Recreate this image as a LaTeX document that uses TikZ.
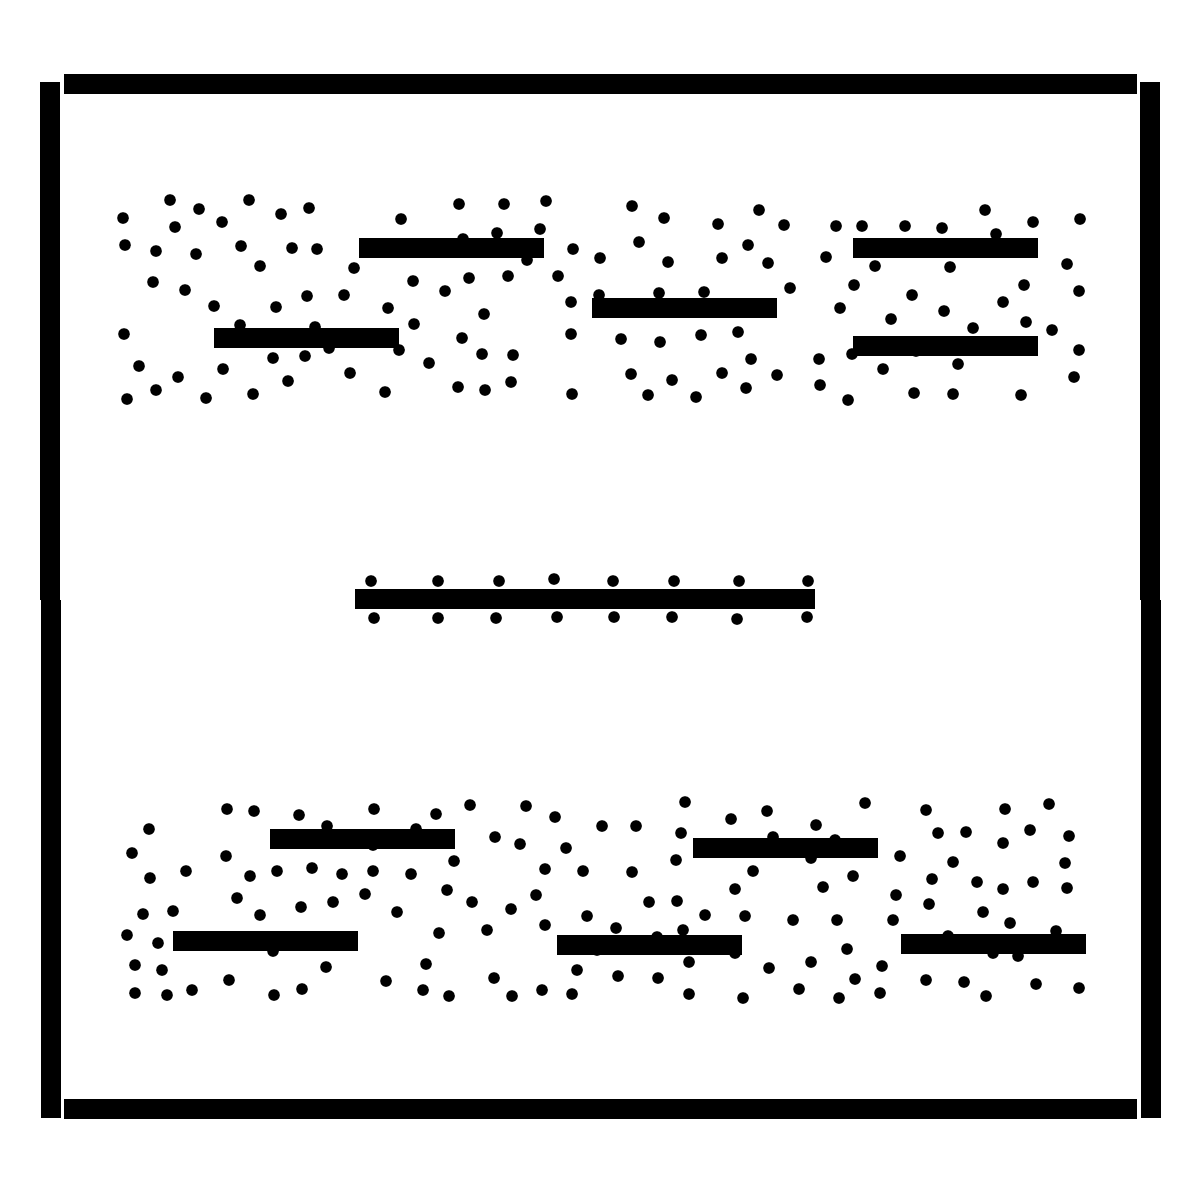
\documentclass[tikz,border=0pt]{standalone}
\begin{document}
\begin{tikzpicture}[x=0.5pt,y=-0.5pt,
  dotr/.style={fill=black},
  barfill/.style={fill=black}]
\useasboundingbox[fill=white] (0,0) rectangle (1200,1200);
% frame
\fill[barfill] (64,74) rectangle (1137,94);
\fill[barfill] (64,1099) rectangle (1137,1119);
\fill[barfill] (40,82) rectangle (60,600);
\fill[barfill] (41,600) rectangle (61,1118);
\fill[barfill] (1140,82) rectangle (1160,600);
\fill[barfill] (1141,600) rectangle (1161,1118);
% top dots
\foreach \a/\b in {170/200,199/209,249/200,281/214,309/208,123/218,175/227,222/222,125/245,156/251,196/254,241/246,292/248,317/249,260/266,354/268,153/282,185/290,214/306,276/307,307/296,344/295,240/325,315/327,124/334,329/348,273/358,305/356,139/366,223/369,178/377,350/373,288/381,156/390,127/399,206/398,253/394,
459/204,504/204,546/201,401/219,540/229,497/233,463/239,573/249,600/258,527/260,413/281,445/291,469/278,508/276,558/276,599/295,571/302,388/308,484/314,414/324,462/338,571/334,399/350,482/354,513/355,429/363,511/382,385/392,458/387,485/390,572/394,
632/206,664/218,759/210,718/224,784/225,836/226,862/226,639/242,748/245,668/262,722/258,768/263,826/257,790/288,854/285,659/293,704/292,840/308,621/339,660/342,701/335,738/332,751/359,819/359,852/354,631/374,672/380,722/373,777/375,746/388,820/385,648/395,696/397,848/400,
905/226,942/228,985/210,996/234,1033/222,1080/219,929/251,875/266,950/267,1067/264,1024/285,1079/291,912/295,1003/302,944/311,891/319,1026/322,973/328,1052/330,916/351,1079/350,883/369,958/364,1074/377,914/393,953/394,1021/395}
  \fill[dotr] (\a,\b) circle[radius=5.8];
% middle dots
\foreach \a/\b in {371/581,438/581,499/581,554/579,613/581,674/581,739/581,808/581,
374/618,438/618,496/618,557/617,614/617,672/617,737/619,807/617}
  \fill[dotr] (\a,\b) circle[radius=5.8];
% bottom dots
\foreach \a/\b in {227/809,254/811,299/815,327/826,149/829,132/853,226/856,150/878,186/871,250/876,277/871,312/868,342/874,237/898,260/915,301/907,333/902,143/914,173/911,127/935,158/943,273/951,135/965,162/970,326/967,229/980,135/993,167/995,192/990,274/995,302/989,
374/809,436/814,470/805,526/806,555/817,602/826,416/829,373/845,495/837,520/844,566/848,454/861,373/871,411/874,545/869,583/871,365/894,447/890,472/902,536/895,511/909,397/912,587/916,439/933,487/930,545/925,597/950,426/964,577/970,386/981,494/978,423/990,449/996,512/996,542/990,572/994,
685/802,731/819,767/811,636/826,681/833,816/825,773/837,835/840,811/858,676/860,632/872,753/871,853/876,735/889,823/887,649/902,677/901,705/915,745/916,793/920,837/920,616/928,683/930,657/937,735/953,847/949,689/962,769/968,811/962,855/979,618/976,658/978,689/994,743/998,799/989,839/998,
865/803,926/810,1005/809,1049/804,938/833,966/832,1030/830,1069/836,1003/843,900/856,953/862,1065/863,932/879,977/882,1003/889,1033/882,1067/888,896/895,929/904,983/912,1010/923,893/920,1056/931,948/936,993/953,1018/956,882/966,880/993,926/980,964/982,986/996,1036/984,1079/988}
  \fill[dotr] (\a,\b) circle[radius=5.8];
% bars
\foreach \x/\y in {359/238,214/328,592/298,853/238,853/336,270/829,173/931,693/838,557/935,901/934}
  \fill[barfill] (\x,\y) rectangle ++(185,20);
\fill[barfill] (355,589) rectangle (815,609);
\end{tikzpicture}
\end{document}
